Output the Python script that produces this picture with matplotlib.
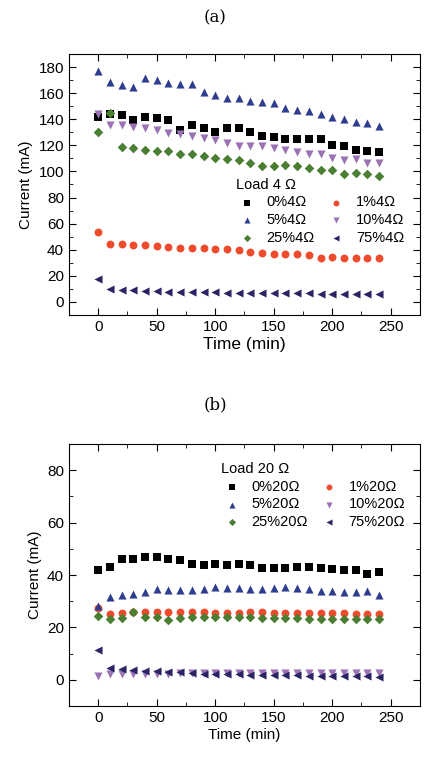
import matplotlib
matplotlib.use('Agg')
import matplotlib.pyplot as plt
from matplotlib.ticker import MultipleLocator

plt.rcParams['font.family'] = ['Liberation Sans', 'DejaVu Sans']

time = [0, 10, 20, 30, 40, 50, 60, 70, 80, 90, 100, 110, 120,
        130, 140, 150, 160, 170, 180, 190, 200, 210, 220, 230, 240]

# panel (a): load 4 ohm
a_0 = [142, 144, 143.5, 139.6, 141.7, 140.7, 139.1, 132, 135.8, 133.5, 130.4, 133.2, 133.2,
       130.2, 126.9, 126.4, 124.8, 124.8, 124.8, 124.8, 120.2, 119.2, 116.1, 115.9, 115.1]
a_1 = [53.3, 44.6, 44.1, 43.6, 43.6, 43.1, 42, 41.5, 41.5, 41.3, 40.5, 40.3, 39.5,
       38.2, 37.7, 36.7, 36.7, 36.4, 35.7, 33.9, 34.1, 33.4, 33.6, 33.4, 33.4]
a_5 = [176.7, 168.5, 166.5, 165, 171.6, 170, 167.5, 167, 167, 160.6, 158.8, 156.5, 156.2,
       153.7, 153.2, 152.4, 148.6, 147.3, 146, 144.2, 141.4, 139.9, 137.9, 137.3, 135]
a_10 = [144.2, 135.8, 135.8, 134, 133.3, 131.5, 129.4, 128.4, 126.9, 125.3, 124.3, 121.8, 119.7,
        119.2, 119.2, 117.7, 116.1, 114.6, 113.6, 113.6, 110, 108.5, 109.5, 106.4, 106.4]
a_25 = [130.2, 144.8, 119, 117.7, 116.4, 115.6, 115.6, 113.6, 113, 111.5, 110, 109.5, 108.5,
        106.4, 104.4, 104.4, 104.9, 103.9, 102.9, 100.8, 101.3, 98, 98.8, 98, 96.7]
a_75 = [17.6, 9.9, 9.2, 8.9, 8.4, 8.2, 7.9, 7.6, 7.6, 7.4, 7.4, 7.1, 7.1,
        7.1, 7.1, 7.1, 6.9, 6.9, 6.9, 6.4, 6.4, 6.4, 6.1, 6.1, 6.1]

# panel (b): load 20 ohm
b_0 = [41.8, 43.0, 46.3, 46.2, 46.7, 46.7, 46.1, 45.6, 44.3, 43.8, 44.2, 43.9, 44.3,
       43.9, 42.8, 42.8, 42.8, 42.9, 42.9, 42.7, 42.4, 41.9, 41.9, 40.4, 41.3]
b_1 = [27.3, 25.0, 25.6, 25.8, 26.0, 26.0, 26.0, 25.9, 25.9, 25.8, 25.6, 25.6, 25.6,
       25.8, 25.8, 25.6, 25.6, 25.6, 25.5, 25.4, 25.4, 25.4, 25.1, 25.1, 25.3]
b_5 = [28.1, 31.7, 32.3, 32.9, 33.5, 34.5, 34.2, 34.2, 34.2, 34.6, 35.3, 34.9, 34.9,
       34.5, 34.6, 35.1, 35.3, 35.0, 34.6, 34.0, 34.0, 33.7, 33.7, 34.0, 32.2]
b_10 = [1.6, 2.1, 2.2, 2.3, 2.4, 2.4, 2.4, 2.5, 2.5, 2.5, 2.5, 2.5, 2.5,
        2.5, 2.5, 2.5, 2.5, 2.6, 2.6, 2.6, 2.6, 2.6, 2.6, 2.6, 2.6]
b_25 = [24.2, 23.1, 23.6, 25.8, 24.0, 24.1, 22.9, 23.6, 23.8, 24.1, 24.1, 23.8, 23.8,
        23.8, 23.7, 23.7, 23.5, 23.5, 23.3, 23.3, 23.3, 23.2, 23.2, 23.2, 23.1]
b_75 = [11.2, 4.7, 4.1, 3.7, 3.5, 3.2, 2.9, 2.8, 2.6, 2.4, 2.3, 2.2, 2.1,
        1.9, 1.9, 1.8, 1.7, 1.7, 1.5, 1.5, 1.5, 1.4, 1.4, 1.3, 1.2]

pcts = ['0%', '1%', '5%', '10%', '25%', '75%']
markers = ['s', 'o', '^', 'v', 'D', '<']
colors = ['#000000', '#ee4a2c', '#2e3d8f', '#9b72b4', '#4a7f33', '#2a2464']
sizes = [28, 32, 34, 34, 24, 34]


def draw(ax, series, ohm, ylim, label_size, leg_xy):
    handles = []
    for vals, p, m, c, s in zip(series, pcts, markers, colors, sizes):
        h = ax.scatter(time, vals, marker=m, color=c, s=s, linewidths=0,
                       label=p + ohm + 'Ω', zorder=3)
        handles.append(h)
    ax.set_xlim(-25, 275)
    ax.set_ylim(*ylim)
    ax.xaxis.set_major_locator(MultipleLocator(50))
    ax.xaxis.set_minor_locator(MultipleLocator(25))
    ax.yaxis.set_major_locator(MultipleLocator(20))
    ax.yaxis.set_minor_locator(MultipleLocator(10))
    ax.tick_params(which='both', direction='in', top=True, right=True, labelsize=11)
    ax.tick_params(which='major', length=5)
    ax.tick_params(which='minor', length=3)
    ax.set_xlabel('Time (min)', fontsize=label_size, labelpad=2)
    ax.set_ylabel('Current (mA)', fontsize=11, labelpad=4)
    order = [0, 2, 4, 1, 3, 5]
    ax.legend([handles[i] for i in order], [handles[i].get_label() for i in order],
              ncol=2, frameon=False, title='Load ' + ohm + ' Ω',
              loc='upper left', bbox_to_anchor=leg_xy, fontsize=10.5,
              title_fontsize=10.5, handletextpad=0.6, columnspacing=0.7,
              labelspacing=0.25, borderpad=0.2, handlelength=1.5, markerscale=0.75,
              alignment='left')


fig = plt.figure(figsize=(4.38, 7.59), dpi=100)
ax1 = fig.add_axes([0.1575, 0.585, 0.8014, 0.3439])
ax2 = fig.add_axes([0.1575, 0.0698, 0.8014, 0.3452])

draw(ax1, [a_0, a_1, a_5, a_10, a_25, a_75], '4', (-10, 190), 12.5, (0.447, 0.565))
draw(ax2, [b_0, b_1, b_5, b_10, b_25, b_75], '20', (-10, 90), 11, (0.403, 0.97))

fig.text(0.492, 0.977, '(a)', ha='center', va='center', fontsize=12, family='DejaVu Serif')
fig.text(0.492, 0.466, '(b)', ha='center', va='center', fontsize=12, family='DejaVu Serif')

fig.savefig('out.png', dpi=100)
